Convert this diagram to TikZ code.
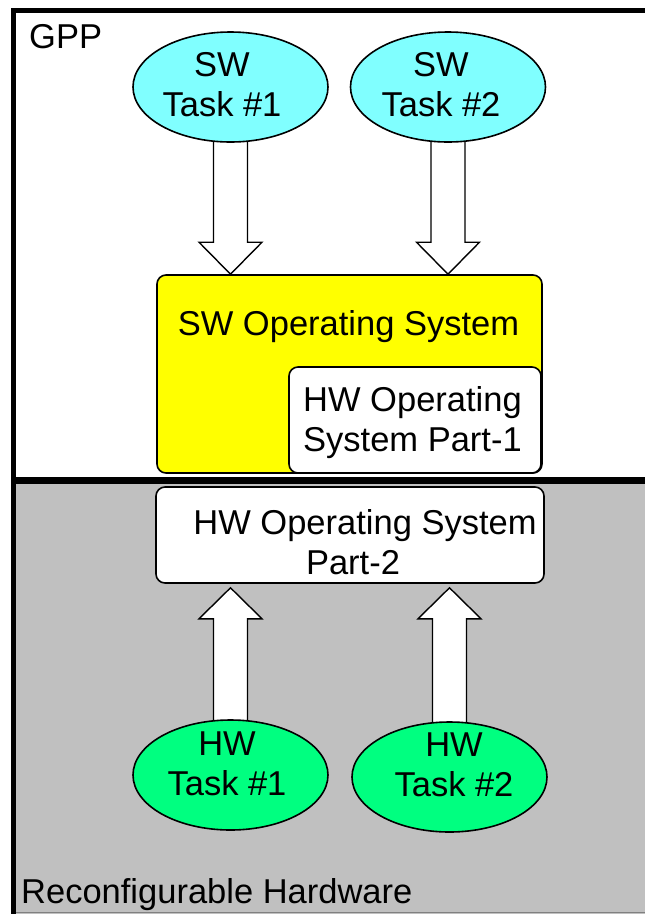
\documentclass[tikz,border=0pt]{standalone}
\usepackage{fontspec}
\setmainfont{Liberation Sans}
\usetikzlibrary{shapes.geometric,calc}

\definecolor{swcyan}{RGB}{128,255,255}
\definecolor{hwgreen}{RGB}{0,255,128}
\definecolor{osyellow}{RGB}{255,255,0}
\definecolor{rhgray}{RGB}{192,192,192}

\pgfdeclarelayer{back}
\pgfdeclarelayer{mid}
\pgfsetlayers{back,mid,main}

\tikzset{
  lbl/.style={font=\fontsize{34.5}{40}\selectfont, inner sep=0pt, text=black},
  taskell/.style={ellipse, draw=black, line width=1.6pt, minimum width=195pt,
    minimum height=110pt, inner sep=0pt},
  osbox/.style={rectangle, rounded corners=9pt, draw=black, line width=1.6pt,
    inner sep=0pt},
  blockarrow/.style={draw=black, fill=white, line width=1.4pt, line join=miter},
}

% hollow block arrow pointing down, from the bottom of #1 onto the top of #2
\newcommand\blkdown[2]{%
  \path[blockarrow] let \p1=(#1.south), \p2=(#2.north) in
    (\x1-17pt,\y1+3pt) -- (\x1-17pt,\y2+32pt) -- (\x1-31.5pt,\y2+32pt)
    -- (\x1,\y2) -- (\x1+31.5pt,\y2+32pt) -- (\x1+17pt,\y2+32pt)
    -- (\x1+17pt,\y1+3pt) -- cycle;}
% hollow block arrow pointing up, from the top of #1 towards the bottom of #2
\newcommand\blkup[2]{%
  \path[blockarrow] let \p1=(#1.north), \p2=(#2.south) in
    (\x1-17pt,\y1-3pt) -- (\x1-17pt,\y2-35pt) -- (\x1-31.5pt,\y2-35pt)
    -- (\x1,\y2-4pt) -- (\x1+31.5pt,\y2-35pt) -- (\x1+17pt,\y2-35pt)
    -- (\x1+17pt,\y1-3pt) -- cycle;}

\begin{document}
\begin{tikzpicture}[x=1pt,y=-1pt]
\useasboundingbox (0,0) rectangle (645,914);

% the two regions: GPP (white) above, reconfigurable hardware (gray) below
\begin{pgfonlayer}{back}
  \fill[white] (0,0) rectangle (645,914);
  \fill[rhgray] (13.5,480) rectangle (655,920);
  \draw[gray, line width=1pt] (13.5,912.5) -- (655,912.5);
  \draw[black, line width=5pt, line join=miter] (655,10) -- (13.5,10) -- (13.5,925);
  \draw[black, line width=7pt] (11,480) -- (655,480);
\end{pgfonlayer}

% operating system blocks
\node[osbox, fill=osyellow, minimum width=385pt, minimum height=198pt] (swos) at (349.5,374) {};
\node[osbox, fill=white, minimum width=252pt, minimum height=106pt] (hwos1) at (415,420) {};
\node[osbox, fill=white, minimum width=388pt, minimum height=96pt] (hwos2) at (350,535) {};

% tasks
\node[taskell, fill=swcyan] (sw1) at (230.5,87) {};
\node[taskell, fill=swcyan] (sw2) at (448,87) {};
\node[taskell, fill=hwgreen] (hw1) at (230.5,775) {};
\node[taskell, fill=hwgreen] (hw2) at (449.5,777) {};

% labels
\node[lbl, anchor=base west] (gpp) at (29,48) {GPP};
\node[lbl, anchor=base west] (rh) at (21,903) {Reconfigurable Hardware};
\node[lbl, anchor=base] (swost) at (348.5,335) {SW Operating System};
\node[lbl, anchor=north west, align=left] (hwos1t) at (303,386) {HW Operating\\System Part-1};
\node[lbl, anchor=north, align=center] (hwos2t) at (353,509) {\hspace*{24pt}HW Operating System\\Part-2};
\node[lbl, anchor=north, align=center] (sw1t) at (222,52) {SW\\Task \#1};
\node[lbl, anchor=north, align=center] (sw2t) at (441,52) {SW\\Task \#2};
\node[lbl, anchor=north, align=center] (hw1t) at (227,731.5) {HW\\Task \#1};
\node[lbl, anchor=north, align=center] (hw2t) at (454,732.5) {HW\\Task \#2};

% block arrows between tasks and operating system
\begin{pgfonlayer}{mid}
  \blkdown{sw1}{swos}
  \blkdown{sw2}{swos}
  \blkup{hw1}{hwos2}
  \blkup{hw2}{hwos2}
\end{pgfonlayer}
\end{tikzpicture}
\end{document}
